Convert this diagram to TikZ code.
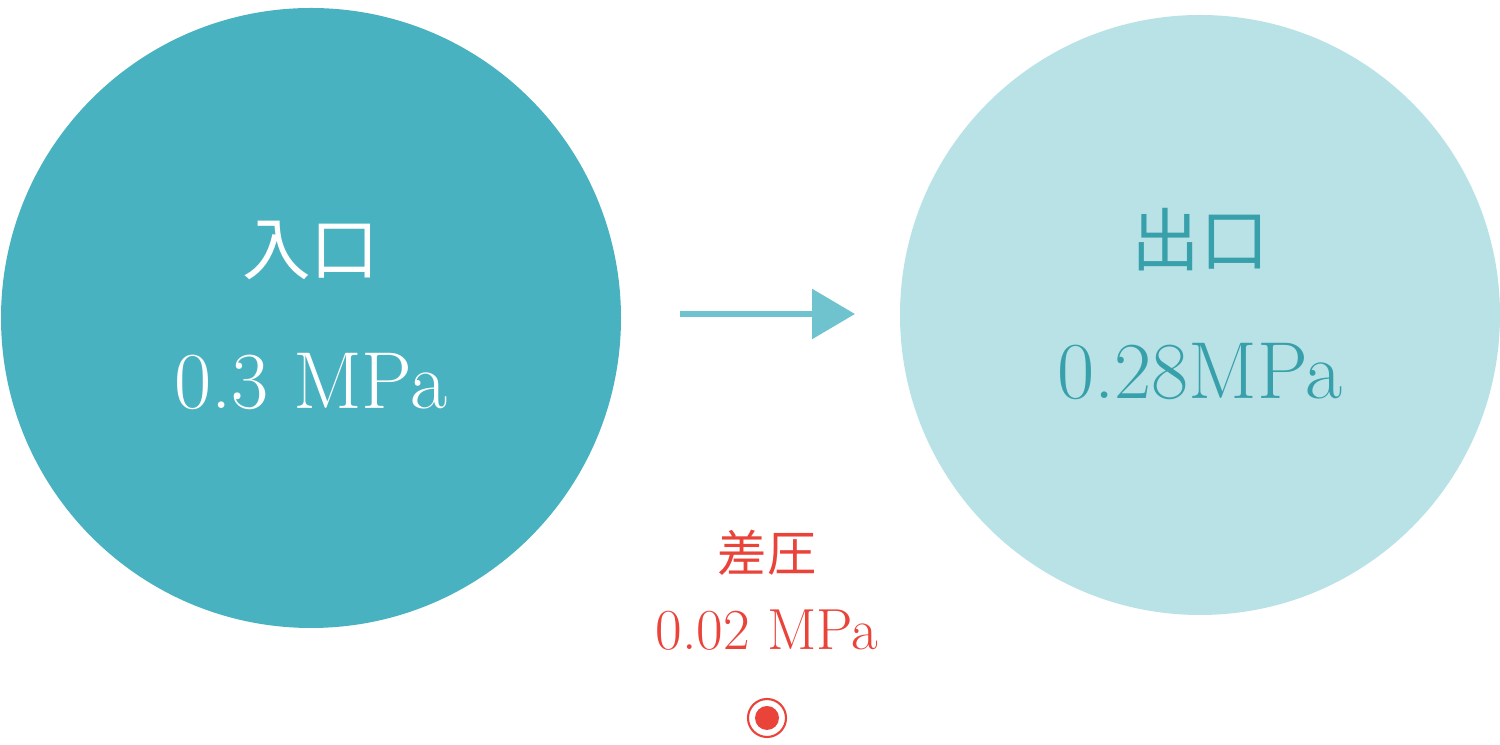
\documentclass[tikz,border=0pt]{standalone}
\usepackage{fontspec}
\usepackage{tikz}
\usetikzlibrary{arrows.meta,positioning,calc}
\newfontfamily\jpfont{Noto Sans CJK JP}
\definecolor{deepteal}{RGB}{73,178,192}
\definecolor{paleteal}{RGB}{184,226,230}
\definecolor{darkteal}{RGB}{56,160,170}
\definecolor{arrowteal}{RGB}{111,195,206}
\definecolor{alertred}{RGB}{233,67,58}
\newcommand{\jpsize}[1]{\fontsize{#1}{#1}\selectfont}

\begin{document}
\begin{tikzpicture}[
    jplabel/.style={inner sep=0pt,font=\jpfont\jpsize{19.5pt}},
    numlabel/.style={inner sep=0pt,font=\jpsize{23pt}},
    flowarrow/.style={arrowteal,line width=1.7pt,-{Triangle[length=0.43cm,width=0.49cm]}}]
\useasboundingbox (0,0) rectangle (15,7.45);
\fill[deepteal] (3.11,4.27) circle (3.10);
\fill[paleteal] (12.0,4.30) circle (3.0);
\node[jplabel,white] (inlet) at (3.11,4.95) {入口};
\node[numlabel,white] (inletp) at (3.11,3.63) {0.3 MPa};
\node[jplabel,darkteal] (outlet) at (12.0,5.05) {出口};
\node[numlabel,darkteal] (outletp) at (12.0,3.73) {0.28MPa};
\coordinate (A1) at (6.80,4.31);
\coordinate (A2) at (8.55,4.31);
\draw[flowarrow] (A1) -- (A2);
\node[inner sep=0pt,alertred,font=\jpfont\jpsize{14pt}] (diff) at (7.67,1.92) {差圧};
\node[inner sep=0pt,alertred,font=\jpsize{16.5pt}] (diffp) at (7.67,1.15) {0.02 MPa};
\coordinate (M) at (7.67,0.27);
\draw[alertred,line width=0.6pt] (M) circle (0.19);
\fill[alertred] (M) circle (0.12);
\end{tikzpicture}
\end{document}
